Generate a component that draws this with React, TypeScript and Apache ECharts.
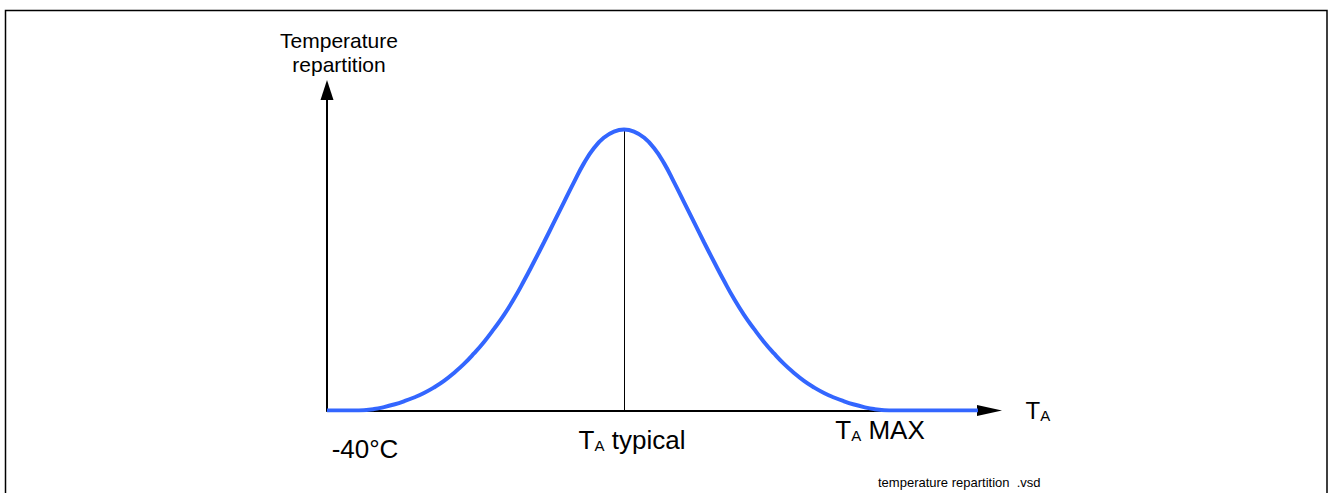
import React, { useEffect, useRef } from "react";
import * as echarts from "echarts";

// Schematic temperature axis (arbitrary units, origin = -40°C)
const tempX = [0, 27, 37, 47, 57, 67, 77, 87, 97, 107, 117, 127, 137, 147, 157, 167, 177, 187, 197, 207, 217, 227, 237, 247, 257, 267, 277, 287, 297, 307, 317, 327, 337, 347, 357, 367, 377, 387, 397, 407, 417, 427, 437, 447, 457, 467, 477, 487, 497, 507, 517, 527, 537, 547, 557, 567, 651];
// Temperature repartition (arbitrary units)
const repartitionY = [0, 0, 0.3, 1.4, 3.4, 6, 9.2, 13, 17.5, 23, 29.5, 37.5, 46.5, 57, 68.5, 81.5, 95.5, 111.5, 129.5, 148.5, 168, 188, 208, 228, 247, 262, 272.5, 278.5, 280.5, 278.5, 272.5, 262, 247, 228, 208, 188, 168, 148.5, 129.5, 111.5, 95.5, 81.5, 68.5, 57, 46.5, 37.5, 29.5, 23, 17.5, 13, 9.2, 6, 3.4, 1.4, 0.3, 0, 0];

const X_MAX = 662.5;
const Y_MAX = 320;
const TYPICAL_X = 297;
const PEAK_Y = 280.5;
const MAX_X = 547;

const tickLabels = ["-40°C", "{t|T}{s|A}{t| typical}", "{t|T}{s|A}{t| MAX}"];
const tickValues = [0, TYPICAL_X, MAX_X];
const tickOffsets: [number, number][] = [[38, 38], [8, 29], [6, 19]];

const FONT = "'Liberation Sans', Arial, Helvetica, sans-serif";

export default function App() {
  const ref = useRef<HTMLDivElement>(null);
  useEffect(() => {
    if (!ref.current) return;
    const chart = echarts.init(ref.current, null, { renderer: "svg" });
    const rich = {
      t: { fontSize: 26, fontFamily: FONT, color: "#000", verticalAlign: "bottom" },
      s: { fontSize: 15, fontFamily: FONT, color: "#000", verticalAlign: "bottom" },
    };
    chart.setOption({
      animation: false,
      backgroundColor: "#fff",
      grid: { left: 327, right: 339.5, top: 90, bottom: 82.5 },
      xAxis: {
        type: "value",
        min: 0,
        max: X_MAX,
        name: "{t|T}{s|A}",
        nameLocation: "end",
        nameGap: 36,
        nameTextStyle: {
          rich: {
            t: { fontSize: 24, fontFamily: FONT, color: "#000", verticalAlign: "bottom" },
            s: { fontSize: 15, fontFamily: FONT, color: "#000", verticalAlign: "bottom" },
          },
        },
        axisLine: {
          show: true,
          symbol: ["none", "triangle"],
          symbolSize: [11, 25],
          lineStyle: { color: "#000", width: 2 },
        },
        axisTick: { show: false },
        axisLabel: { show: false },
        splitLine: { show: false },
      },
      yAxis: {
        type: "value",
        min: 0,
        max: Y_MAX,
        name: "Temperature\nrepartition",
        nameLocation: "end",
        nameGap: 14,
        nameTextStyle: {
          fontSize: 21,
          fontFamily: FONT,
          color: "#000",
          lineHeight: 24,
          align: "center",
          padding: [0, 0, 0, 24],
        },
        axisLine: {
          show: true,
          symbol: ["none", "triangle"],
          symbolSize: [13, 20],
          lineStyle: { color: "#000", width: 2 },
        },
        axisTick: { show: false },
        axisLabel: { show: false },
        splitLine: { show: false },
      },
      series: [
        {
          type: "line",
          data: tempX.map((x, i) => [x, repartitionY[i]]),
          smooth: 0.5,
          showSymbol: false,
          symbol: "none",
          lineStyle: { color: "#3366ff", width: 4 },
          z: 5,
          markLine: {
            silent: true,
            symbol: ["none", "none"],
            label: { show: false },
            lineStyle: { color: "#000", width: 1, type: "solid" },
            data: [[{ coord: [TYPICAL_X, 0] }, { coord: [TYPICAL_X, PEAK_Y] }]],
          },
          markPoint: {
            silent: true,
            symbol: "rect",
            symbolSize: 1,
            itemStyle: { color: "rgba(0,0,0,0)" },
            data: tickValues.map((v, i) => ({
              coord: [v, 0],
              label: {
                show: true,
                position: "inside",
                offset: tickOffsets[i],
                formatter: tickLabels[i],
                fontSize: 26,
                fontFamily: FONT,
                color: "#000",
                rich,
              },
            })),
          },
        },
      ],
      graphic: [
        {
          type: "rect",
          shape: { x: 5.5, y: 10.5, width: 1321.5, height: 500 },
          style: { fill: "none", stroke: "#000", lineWidth: 1.5 },
          silent: true,
        },
        {
          type: "text",
          left: 878,
          top: 476,
          style: {
            text: "temperature repartition  .vsd",
            fontSize: 13,
            fontFamily: FONT,
            fill: "#000",
          },
          silent: true,
        },
      ],
    });
    return () => chart.dispose();
  }, []);
  return (
    <div
      ref={ref}
      style={{ position: "absolute", left: 0, top: 0, width: 1329, height: 493, background: "#fff" }}
    />
  );
}
